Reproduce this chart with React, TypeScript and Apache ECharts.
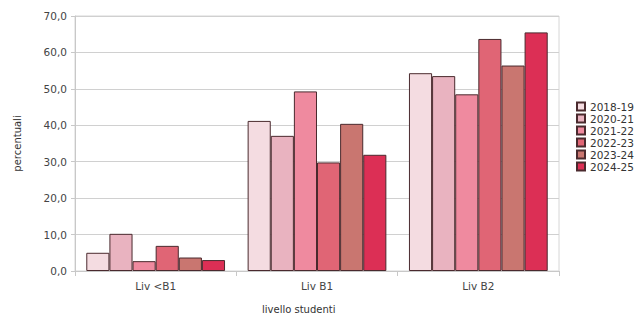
import React, { useEffect, useRef } from "react";
import * as echarts from "echarts";

const categories = ["Liv <B1", "Liv B1", "Liv B2"];
const seriesNames = ["2018-19", "2020-21", "2021-22", "2022-23", "2023-24", "2024-25"];
const values2018 = [5.0, 41.2, 54.3];
const values2020 = [10.2, 37.1, 53.5];
const values2021 = [2.7, 49.3, 48.5];
const values2022 = [6.9, 29.8, 63.7];
const values2023 = [3.7, 40.4, 56.4];
const values2024 = [3.0, 31.9, 65.5];
const seriesValues = [values2018, values2020, values2021, values2022, values2023, values2024];
const colors = ["#f4dce1", "#e9b3c0", "#ef8a9f", "#e06575", "#c97670", "#dc2f55"];

export default function App() {
  const ref = useRef<HTMLDivElement>(null);
  useEffect(() => {
    if (!ref.current) return;
    const chart = echarts.init(ref.current, undefined, { renderer: "svg" });
    chart.setOption({
      animation: false,
      backgroundColor: "#ffffff",
      textStyle: { fontFamily: "DejaVu Sans" },
      grid: {
        left: 75,
        right: 79,
        top: 16,
        bottom: 46,
        show: true,
        borderColor: "#d6d6d6",
        borderWidth: 1,
      },
      legend: {
        orient: "vertical",
        left: 576,
        top: 101,
        padding: 0,
        itemWidth: 8,
        itemHeight: 8,
        itemGap: 1,
        icon: "rect",
        textStyle: { fontSize: 10.5, color: "#333" },
        data: seriesNames,
      },
      xAxis: {
        type: "category",
        data: categories,
        axisLine: { lineStyle: { color: "#c8c8c8" } },
        axisTick: { show: true, length: 5, lineStyle: { color: "#c8c8c8" } },
        axisLabel: { fontSize: 10.5, color: "#444", margin: 9 },
      },
      yAxis: {
        type: "value",
        min: 0,
        max: 70,
        interval: 10,
        name: "percentuali",
        nameLocation: "middle",
        nameGap: 53,
        nameTextStyle: { fontSize: 10, color: "#333" },
        axisLine: { show: true, lineStyle: { color: "#c8c8c8" } },
        axisTick: { show: true, length: 4, lineStyle: { color: "#c8c8c8" } },
        axisLabel: {
          fontSize: 10.5,
          color: "#444",
          margin: 8,
          formatter: (v: number) => v.toFixed(1).replace(".", ","),
        },
        splitLine: { lineStyle: { color: "#d0d0d0" } },
      },
      graphic: [
        {
          type: "text",
          left: 262,
          top: 304,
          style: { text: "livello studenti", fontSize: 10, fill: "#333", fontFamily: "DejaVu Sans" },
        },
      ],
      series: seriesNames.map((name, i) => ({
        name,
        type: "bar",
        data: seriesValues[i],
        barGap: "0%",
        barCategoryGap: "14%",
        itemStyle: { color: colors[i], borderColor: "#4a2a2e", borderWidth: 1 },
      })),
    });
    return () => chart.dispose();
  }, []);
  return (
    <div
      ref={ref}
      style={{ position: "fixed", left: 0, top: 0, width: 638, height: 317 }}
    />
  );
}
